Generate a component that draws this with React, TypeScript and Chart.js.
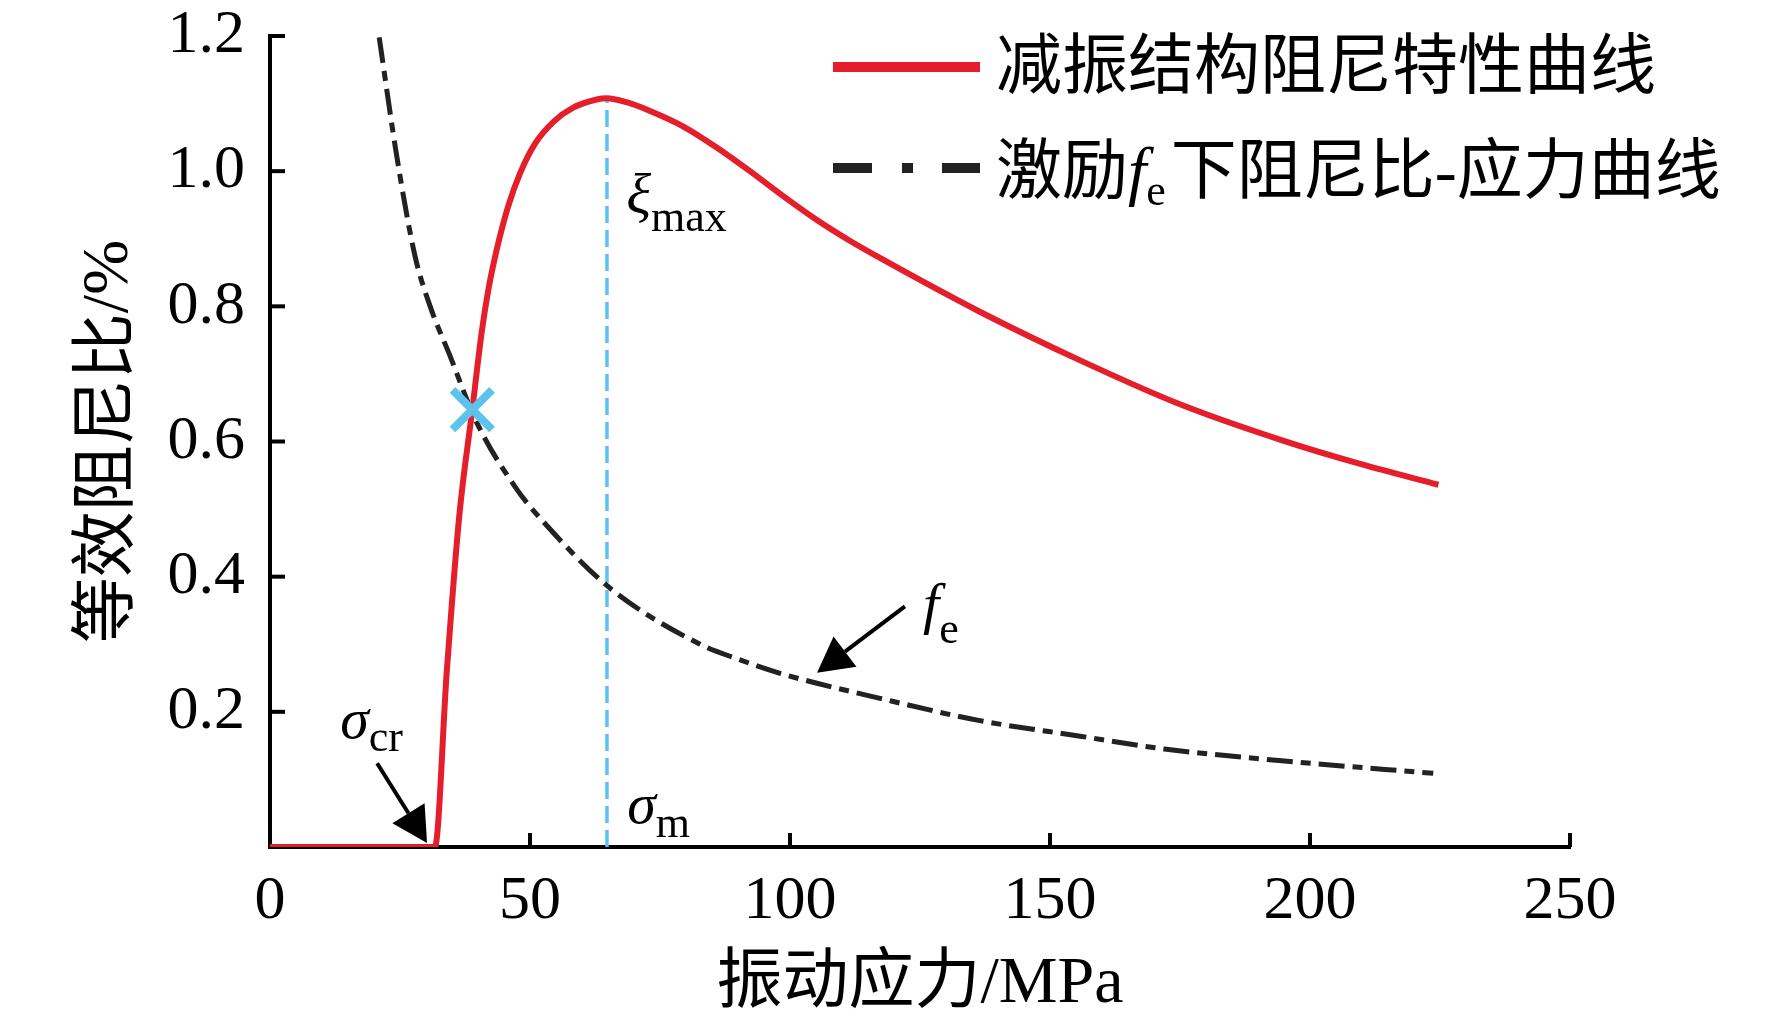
import React, { useEffect, useRef } from 'react';
import { Chart, registerables } from 'chart.js';

Chart.register(...registerables);

// 减振结构阻尼特性曲线
const dampStress = [0, 31.7, 34.0, 36.4, 38.9, 40.7, 42.0, 43.6, 45.8, 48.1, 51.0, 54.5, 58.3, 62.8, 64.7, 68.6, 73.1, 79.5, 85.9, 92.3, 98.7, 105.1, 111.5, 117.9, 136.5, 155.8, 175, 194.5, 210, 224.7];
const dampRatio = [0, 0, 0.26, 0.49, 0.647, 0.761, 0.825, 0.884, 0.948, 0.997, 1.041, 1.073, 1.094, 1.106, 1.108, 1.102, 1.089, 1.066, 1.035, 1.0, 0.963, 0.928, 0.897, 0.869, 0.792, 0.72, 0.655, 0.602, 0.566, 0.536];

// 激励fe下阻尼比-应力曲线
const excStress = [21.0, 24.4, 27.9, 30.8, 34.6, 39.7, 47.4, 52.6, 65.4, 82.7, 90, 98.1, 117.3, 136.5, 155.8, 172, 194, 223.7];
const excRatio = [1.198, 1.021, 0.874, 0.8, 0.727, 0.629, 0.53, 0.481, 0.383, 0.3, 0.278, 0.257, 0.22, 0.187, 0.164, 0.145, 0.128, 0.109];

// sigma_m line and the crossing mark
const sigmaM = [64.8, 64.8];
const sigmaMRatio = [0, 1.107];
const crossStress = [38.9];
const crossRatio = [0.647];

const xTicks = [0, 50, 100, 150, 200, 250];
const yTicks = [0, 0.2, 0.4, 0.6, 0.8, 1.0, 1.2];

const SERIF = "'Liberation Serif', 'Times New Roman', 'Noto Sans CJK SC', serif";
const RED = '#E41F2B';
const CYAN = '#5BC3EC';
const DARK = '#222222';

const toPts = (xs: number[], ys: number[]) => xs.map((x, i) => ({ x, y: ys[i] }));

// text pieces: plain / italic / subscript
type Piece = { t: string; it?: boolean; sub?: boolean };

const drawPieces = (ctx: CanvasRenderingContext2D, pieces: Piece[], x: number, y: number, size: number, subSize: number, subDrop: number) => {
  let cx = x;
  ctx.textAlign = 'left';
  ctx.textBaseline = 'alphabetic';
  ctx.fillStyle = '#000';
  pieces.forEach((p) => {
    const fs = p.sub ? subSize : size;
    ctx.font = `${p.it ? 'italic ' : ''}${fs}px ${SERIF}`;
    ctx.fillText(p.t, cx, p.sub ? y + subDrop : y);
    cx += ctx.measureText(p.t).width + (p.sub ? 5 : 0);
  });
};

const drawArrow = (ctx: CanvasRenderingContext2D, x1: number, y1: number, x2: number, y2: number) => {
  const ang = Math.atan2(y2 - y1, x2 - x1);
  const L = 35;
  const W = 19;
  const bx = x2 - Math.cos(ang) * L;
  const by = y2 - Math.sin(ang) * L;
  ctx.strokeStyle = '#000';
  ctx.fillStyle = '#000';
  ctx.lineWidth = 4;
  ctx.setLineDash([]);
  ctx.beginPath();
  ctx.moveTo(x1, y1);
  ctx.lineTo(bx, by);
  ctx.stroke();
  ctx.beginPath();
  ctx.moveTo(x2, y2);
  ctx.lineTo(bx + Math.sin(ang) * W, by - Math.cos(ang) * W);
  ctx.lineTo(bx - Math.sin(ang) * W, by + Math.cos(ang) * W);
  ctx.closePath();
  ctx.fill();
};

const annotate = {
  id: 'annotate',
  afterDatasetsDraw(chart: any) {
    const { ctx, chartArea } = chart;
    const xs = chart.scales.x;
    const ys = chart.scales.y;
    const px = (v: number) => xs.getPixelForValue(v);
    const py = (v: number) => ys.getPixelForValue(v);
    ctx.save();

    // inward ticks
    ctx.strokeStyle = '#000';
    ctx.lineWidth = 4;
    ctx.setLineDash([]);
    xTicks.forEach((v) => {
      if (v === 0) return;
      ctx.beginPath();
      ctx.moveTo(px(v), chartArea.bottom);
      ctx.lineTo(px(v), chartArea.bottom - 14);
      ctx.stroke();
    });
    yTicks.forEach((v) => {
      if (v === 0) return;
      ctx.beginPath();
      ctx.moveTo(chartArea.left, py(v));
      ctx.lineTo(chartArea.left + 15, py(v));
      ctx.stroke();
    });

    // symbols
    drawPieces(ctx, [{ t: 'σ', it: true }, { t: 'cr', sub: true }], px(13.5), py(0.162), 58, 44, 13);
    drawPieces(ctx, [{ t: 'σ', it: true }, { t: 'm', sub: true }], px(68.7), py(0.035), 58, 44, 14);
    drawPieces(ctx, [{ t: 'ξ', it: true }, { t: 'max', sub: true }], px(68.5), py(0.938), 58, 44, 18);
    drawPieces(ctx, [{ t: 'f', it: true }, { t: 'e', sub: true }], px(125.6), py(0.331), 58, 44, 20);

    drawArrow(ctx, px(20.6), py(0.124), px(30.2), py(0.006));
    drawArrow(ctx, px(122.1), py(0.356), px(105.2), py(0.258));

    // legend
    const lx1 = 833;
    const lx2 = 980;
    ctx.lineCap = 'butt';
    ctx.lineWidth = 10;
    ctx.strokeStyle = RED;
    ctx.setLineDash([]);
    ctx.beginPath();
    ctx.moveTo(lx1, 67);
    ctx.lineTo(lx2, 67);
    ctx.stroke();
    ctx.strokeStyle = DARK;
    ctx.setLineDash([39, 30, 11, 29]);
    ctx.beginPath();
    ctx.moveTo(lx1, 168);
    ctx.lineTo(lx2, 168);
    ctx.stroke();
    ctx.setLineDash([]);
    drawPieces(ctx, [{ t: '减振结构阻尼特性曲线' }], 996, 88, 66, 44, 12);
    drawPieces(ctx, [{ t: '激励' }, { t: 'f', it: true }, { t: 'e', sub: true }, { t: '下阻尼比-应力曲线' }], 996, 193, 66, 44, 12);

    ctx.restore();
  },
};

export default function App() {
  const canvasRef = useRef<HTMLCanvasElement | null>(null);

  useEffect(() => {
    document.body.style.margin = '0';
    if (!canvasRef.current) return;
    const chart = new Chart(canvasRef.current, {
      type: 'line',
      data: {
        datasets: [
          {
            label: 'cross',
            data: toPts(crossStress, crossRatio),
            showLine: false,
            pointStyle: 'crossRot',
            pointRadius: 28,
            pointBorderWidth: 8,
            pointBorderColor: CYAN,
            pointBackgroundColor: CYAN,
            order: 0,
          },
          {
            label: '减振结构阻尼特性曲线',
            data: toPts(dampStress, dampRatio),
            borderColor: RED,
            borderWidth: 6,
            pointRadius: 0,
            cubicInterpolationMode: 'monotone',
            order: 1,
          },
          {
            label: '激励fe下阻尼比-应力曲线',
            data: toPts(excStress, excRatio),
            borderColor: DARK,
            borderWidth: 5,
            borderDash: [26, 8, 10, 8],
            pointRadius: 0,
            cubicInterpolationMode: 'monotone',
            order: 2,
          },
          {
            label: 'sigma_m',
            data: toPts(sigmaM, sigmaMRatio),
            borderColor: CYAN,
            borderWidth: 3.5,
            borderDash: [17, 7],
            pointRadius: 0,
            tension: 0,
            order: 3,
          },
        ],
      },
      options: {
        responsive: false,
        animation: false,
        events: [],
        layout: { padding: { left: 0, top: 32, right: 202, bottom: 0 } },
        plugins: {
          legend: { display: false },
          tooltip: { enabled: false },
        },
        scales: {
          x: {
            type: 'linear',
            min: 0,
            max: 250,
            afterBuildTicks: (s: any) => {
              s.ticks = xTicks.map((v) => ({ value: v }));
            },
            afterFit: (s: any) => {
              s.height = 178;
              s.paddingLeft = 0;
              s.paddingRight = 0;
            },
            grid: { display: false, drawTicks: false },
            border: { display: true, color: '#000', width: 4 },
            ticks: {
              color: '#000',
              padding: 24,
              maxRotation: 0,
              font: { family: SERIF, size: 62, lineHeight: 1 },
              callback: (v: any) => String(v),
            },
            title: {
              display: true,
              text: '振动应力/MPa',
              color: '#000',
              font: { family: SERIF, size: 66, lineHeight: 1 },
              padding: { top: 0, bottom: 7 },
            },
          },
          y: {
            type: 'linear',
            min: 0,
            max: 1.2,
            afterBuildTicks: (s: any) => {
              s.ticks = yTicks.map((v) => ({ value: v }));
            },
            afterFit: (s: any) => {
              s.width = 270;
              s.paddingTop = 0;
              s.paddingBottom = 0;
            },
            grid: { display: false, drawTicks: false },
            border: { display: true, color: '#000', width: 4 },
            ticks: {
              color: '#000',
              padding: 25,
              font: { family: SERIF, size: 62, lineHeight: 1 },
              callback: (v: any) => (v === 0 ? '' : Number(v).toFixed(1)),
            },
            title: {
              display: true,
              text: '等效阻尼比/%',
              color: '#000',
              font: { family: SERIF, size: 66, lineHeight: 1 },
              padding: { top: 77, bottom: 0 },
            },
          },
        },
      },
      plugins: [annotate],
    } as any);
    return () => chart.destroy();
  }, []);

  return (
    <div style={{ width: 1772, height: 1025, background: '#fff', overflow: 'hidden' }}>
      <canvas ref={canvasRef} width={1772} height={1025} style={{ display: 'block', width: 1772, height: 1025 }} />
    </div>
  );
}
